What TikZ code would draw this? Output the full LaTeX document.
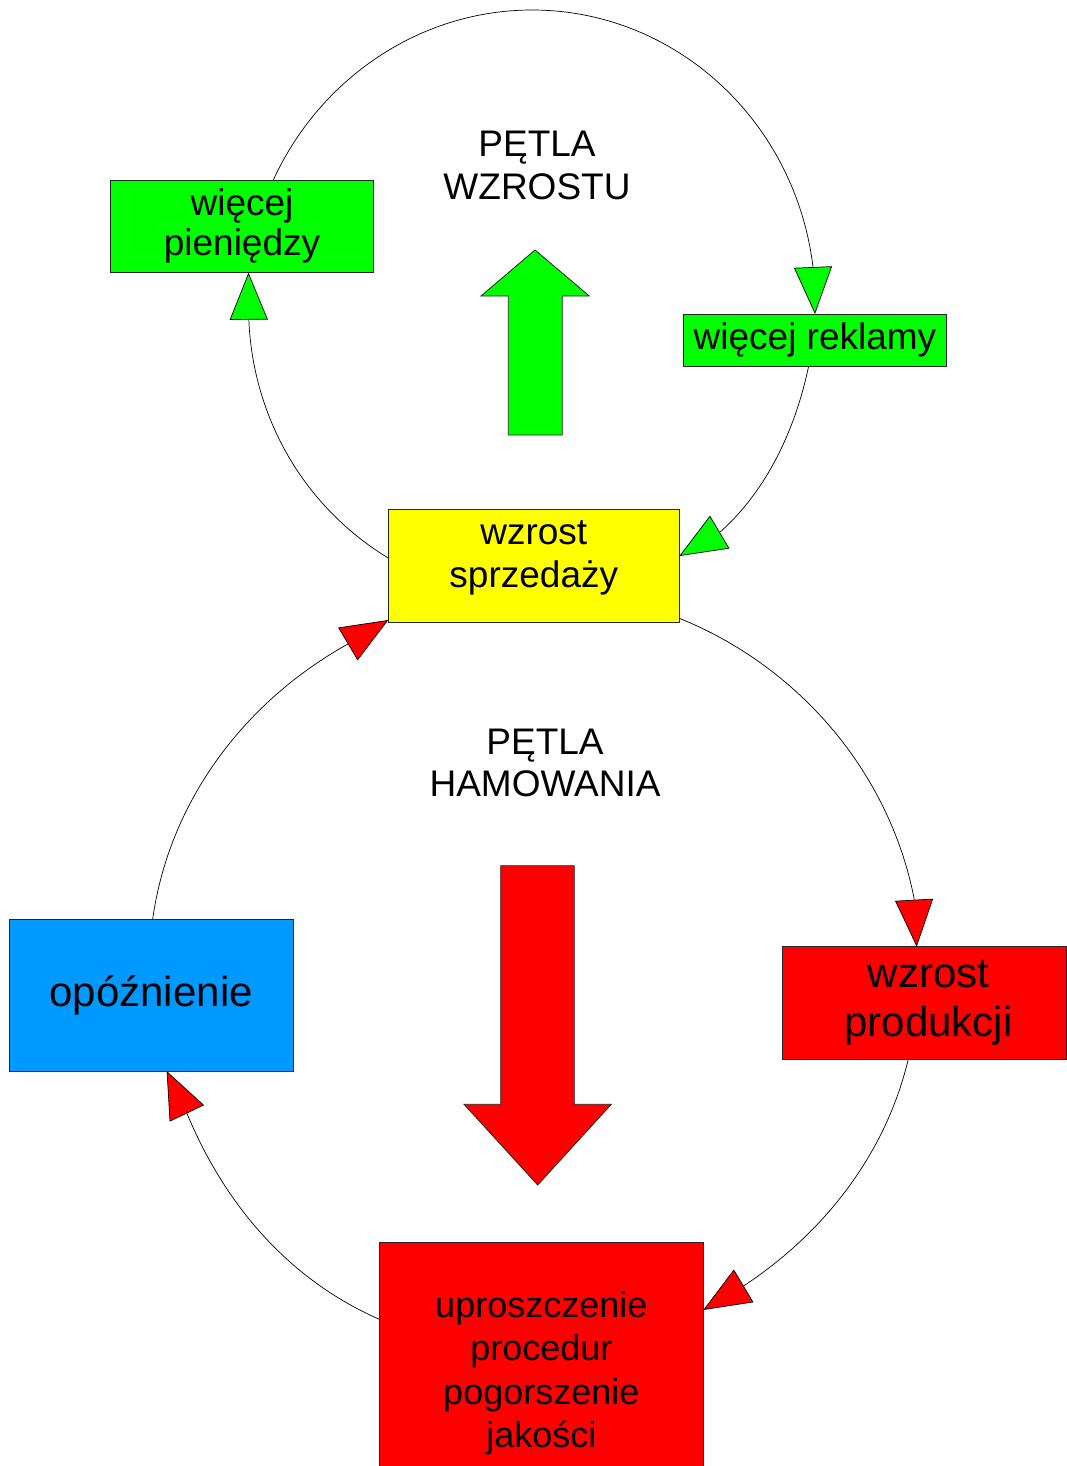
\documentclass[tikz,border=0pt]{standalone}
\usepackage{fontspec}
\setmainfont{Liberation Sans}
\usetikzlibrary{arrows.meta}

\definecolor{grn}{HTML}{00FF00}
\definecolor{ylw}{HTML}{FFFF00}
\definecolor{rd}{HTML}{FF0000}
\definecolor{blu}{HTML}{0099FF}

\begin{document}
\begin{tikzpicture}[x=1pt, y=-1pt,
  box/.style={draw=black!85, line width=0.8pt, rectangle, inner sep=0pt, outer sep=0pt, align=center},
  link/.style={draw=black, line width=0.7pt},
  gtip/.style={-{Triangle[length=47pt, width=38pt, fill=grn]}},
  rtip/.style={-{Triangle[length=47pt, width=38pt, fill=rd]}},
  bigarrow/.style={draw=black!85, line width=0.8pt},
  title/.style={align=center, inner sep=0pt}
]
\clip (0,0) rectangle (1067,1466);
\fill[white] (0,0) rectangle (1067,1466);

% ---- boxes ----
\node[box, fill=grn, minimum width=262.6pt, minimum height=92.7pt,
      font=\fontsize{37}{40}\selectfont] (pien) at (242,226.35) {więcej\\pieniędzy};
\node[box, fill=grn, minimum width=263.4pt, minimum height=52.7pt,
      font=\fontsize{37}{44}\selectfont] (rekl) at (815,340.35) {więcej reklamy};
\node[box, fill=ylw, minimum width=291pt, minimum height=112.7pt,
      label={[align=center, inner sep=0pt, yshift=8pt, font=\fontsize{37}{43}\selectfont]center:wzrost\\sprzedaży}]
      (sprz) at (533.8,565.65) {};
\node[box, fill=blu, minimum width=284.3pt, minimum height=151.7pt,
      font=\fontsize{42}{49}\selectfont] (opoz) at (151.15,995.15) {opóźnienie};
\node[box, fill=rd, minimum width=284.2pt, minimum height=112.3pt,
      label={[align=center, inner sep=0pt, xshift=4pt, font=\fontsize{42}{49}\selectfont]center:wzrost\\produkcji}]
      (prod) at (924.4,1002.85) {};
\node[box, fill=rd, minimum width=324pt, minimum height=261.7pt,
      font=\fontsize{36}{43.5}\selectfont] (upr) at (541.3,1373.15)
      {uproszczenie\\procedur\\pogorszenie\\jakości};

% ---- loop titles ----
\node[title, font=\fontsize{37}{43}\selectfont] (tw) at (537,165.7) {PĘTLA\\WZROSTU};
\node[title, font=\fontsize{37}{42}\selectfont] (th) at (545,762.8) {PĘTLA\\HAMOWANIA};

% ---- block arrows ----
\filldraw[bigarrow, fill=grn]
  (508.3,435) -- (508.3,296) -- (481,296) -- (535,250) -- (589.3,296)
  -- (562.3,296) -- (562.3,435) -- cycle;
\filldraw[bigarrow, fill=rd]
  (500.7,865.7) -- (574.3,865.7) -- (574.3,1104.3) -- (611.3,1104.3)
  -- (537.7,1185) -- (464,1104.3) -- (500.7,1104.3) -- cycle;

% ---- growth loop (each arc ends in a short straight run carrying the tip) ----
\draw[link, gtip] ([xshift=31.3pt]pien.north)
  .. controls (320.5,77.3) and (421.1,10) .. (532,10)
  .. controls (674.6,10) and (795.1,120) .. (813,267) -- (rekl.north);
\draw[link, gtip] ([xshift=-6.5pt]rekl.south)
  .. controls (795.4,429) and (767.2,489.9) .. (720.7,531.5)
  -- ([yshift=9.6pt]sprz.east);
\draw[link, gtip] ([yshift=7.6pt]sprz.west)
  .. controls (305.3,507.6) and (253,419.5) .. (248.8,319.5)
  -- ([xshift=6.5pt]pien.south);

% ---- braking loop ----
\draw[link, rtip] ([yshift=3.7pt]sprz.south east)
  .. controls (799,666.5) and (889.1,772.2) .. (914,898)
  -- ([xshift=-7.7pt]prod.north);
\draw[link, rtip] ([xshift=-16.1pt]prod.south)
  .. controls (886,1153.1) and (825,1232.3) .. (743.8,1285.8)
  -- ([yshift=63.2pt]upr.east);
\draw[link, rtip] ([yshift=53.9pt]upr.west)
  .. controls (289.1,1279.8) and (225.2,1205.1) .. (187.5,1114.7)
  -- ([xshift=15.5pt]opoz.south);
\draw[link, rtip] ([xshift=1.5pt]opoz.north)
  .. controls (169.1,802.1) and (243.1,702.8) .. (347,644.5)
  -- ([yshift=2pt]sprz.south west);
\end{tikzpicture}
\end{document}
